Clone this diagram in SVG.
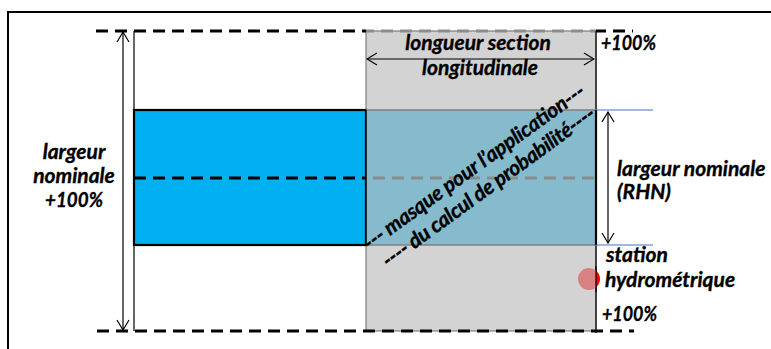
<svg xmlns="http://www.w3.org/2000/svg" width="771" height="349" viewBox="0 0 771 349">
<style>
  .t { font-family: Lato, "Liberation Sans", sans-serif; font-weight: bold; font-style: italic; font-size: 21px; fill: #000; stroke: #000; stroke-width: 0.35; }
  .dash { stroke: #000; stroke-width: 3; stroke-dasharray: 12 7; fill: none; }
  .thin { stroke: #000; stroke-width: 1.2; fill: none; }
  .arr { stroke: #000; stroke-width: 1.2; fill: none; marker-start: url(#ah); marker-end: url(#ah); }
</style>
<defs>
  <marker id="ah" viewBox="0 0 12 14" refX="11" refY="7" markerWidth="12" markerHeight="14" markerUnits="userSpaceOnUse" orient="auto-start-reverse">
    <path d="M1,1 L11,7 L1,13" fill="none" stroke="#000" stroke-width="1.2"/>
  </marker>
  <clipPath id="leftOfLine"><rect x="570" y="260" width="26" height="40"/></clipPath>
  <clipPath id="rightOfLine"><rect x="596" y="260" width="20" height="40"/></clipPath>
</defs>
<rect x="8" y="12" width="800" height="400" fill="#fff" stroke="#000" stroke-width="2"/>

<g id="gray-mask">
  <rect x="366" y="31" width="230" height="300" fill="#D3D3D3" stroke="#7F7F7F" stroke-width="1.2"/>
</g>
<g id="limits">
  <line x1="96" y1="31" x2="366" y2="31" class="dash"/>
  <line x1="366" y1="31" x2="596" y2="31" class="dash" style="stroke:#8C8C8C;stroke-dashoffset:4"/>
  <line x1="596" y1="31" x2="633" y2="31" class="dash" style="stroke-dashoffset:2"/>
  <line x1="97" y1="331" x2="634" y2="331" class="dash"/>
  <line x1="134" y1="31" x2="134" y2="331" class="thin"/>
  <line x1="596" y1="31" x2="596" y2="333" class="thin"/>
</g>
<g id="river">
  <rect x="134" y="110" width="232" height="135" fill="#00B0F0" stroke="#000" stroke-width="2.2"/>
  <line x1="134" y1="178" x2="366" y2="178" class="dash"/>
</g>
<g id="overlap">
  <rect x="366" y="110" width="230" height="135" fill="#86BBCE"/>
  <line x1="366" y1="110" x2="596" y2="110" stroke="#808080" stroke-width="1.5"/>
  <line x1="366" y1="245" x2="596" y2="245" stroke="#808080" stroke-width="1.5"/>
  <line x1="373" y1="178" x2="596" y2="178" class="dash" style="stroke:#8C8C8C"/>
  <line x1="596" y1="110" x2="596" y2="245" stroke="#000" stroke-width="2.2"/>
  <line x1="366" y1="110" x2="366" y2="245" stroke="#000" stroke-width="1.5"/>
  <line x1="596" y1="110" x2="653" y2="110" stroke="#4472C4" stroke-width="1.2"/>
  <line x1="596" y1="245" x2="653" y2="245" stroke="#4472C4" stroke-width="1.2"/>
</g>
<g id="station">
  <circle cx="589" cy="279" r="11" fill="#D98080" clip-path="url(#leftOfLine)"/>
  <circle cx="589" cy="279" r="11" fill="#FF0000" clip-path="url(#rightOfLine)"/>
  <line x1="596" y1="266" x2="596" y2="292" stroke="#000" stroke-width="1.2"/>
</g>
<g id="connectors">
  <line x1="123" y1="32" x2="123" y2="330" class="arr"/>
  <line x1="367" y1="59" x2="594" y2="59" class="arr"/>
  <line x1="608" y1="112" x2="608" y2="243" class="arr"/>
</g>
<g id="labels">
  <text class="t" x="478" y="50" text-anchor="middle">longueur section</text>
  <text class="t" x="480" y="75" text-anchor="middle">longitudinale</text>
  <text class="t" x="601" y="50" textLength="55" lengthAdjust="spacingAndGlyphs">+100%</text>
  <text class="t" x="617" y="176">largeur nominale</text>
  <text class="t" x="617" y="199">(RHN)</text>
  <text class="t" x="606" y="262">station</text>
  <text class="t" x="605" y="287">hydrométrique</text>
  <text class="t" x="602" y="321" textLength="55" lengthAdjust="spacingAndGlyphs">+100%</text>
  <text class="t" x="74" y="159" text-anchor="middle">largeur</text>
  <text class="t" x="74" y="183" text-anchor="middle">nominale</text>
  <text class="t" x="74" y="207" text-anchor="middle" textLength="58" lengthAdjust="spacingAndGlyphs">+100%</text>
  <text class="t" x="478" y="172.5" text-anchor="middle" textLength="268" transform="rotate(-35.8 478 172.5)">--- masque pour l’application---</text>
  <text class="t" x="492.5" y="192.5" text-anchor="middle" textLength="258" transform="rotate(-36 492.5 192.5)">---- du calcul de probabilité----</text>
</g>
</svg>
